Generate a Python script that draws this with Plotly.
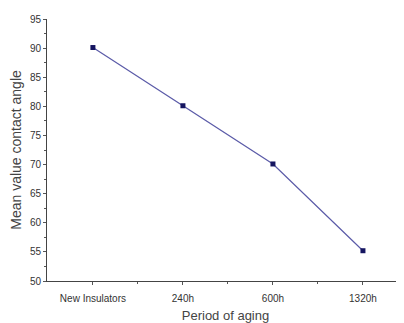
import plotly.graph_objects as go

categories = ["New Insulators", "240h", "600h", "1320h"]
contact_angle = [90.1, 80.1, 70.1, 55.2]

x_pos = list(range(len(categories)))

fig = go.Figure()
fig.add_trace(go.Scatter(
    x=x_pos, y=contact_angle, mode="lines+markers",
    line=dict(color="#5b5ba8", width=1.2),
    marker=dict(symbol="square", size=5, color="#151560"),
    showlegend=False,
))

font_family = "Liberation Sans, Arial, sans-serif"
# page body adds an 8px offset, so figure is 396x315 placed at (8,8)
fig.update_layout(
    width=396, height=315,
    margin=dict(l=39, r=0, t=11, b=42),
    paper_bgcolor="white", plot_bgcolor="white",
    font=dict(family=font_family, color="#333333"),
)
fig.update_xaxes(
    automargin=False,
    range=[-0.51, 3.456],
    tickvals=x_pos, ticktext=categories,
    tickfont=dict(size=10, color="#333333"),
    ticks="outside", ticklen=3, tickcolor="#555555",
    ticklabelstandoff=5,
    minor=dict(tickvals=[0.5, 1.5, 2.5], ticks="outside", ticklen=2, tickcolor="#555555"),
    showline=True, linecolor="#444444", linewidth=1,
    showgrid=False, zeroline=False,
    title=dict(text="Period of aging", font=dict(size=13, color="#444444"), standoff=8),
)
fig.update_yaxes(
    automargin=False,
    range=[50, 95], dtick=5,
    tickfont=dict(size=10, color="#333333"),
    ticks="outside", ticklen=3, tickcolor="#555555",
    minor=dict(dtick=2.5, ticks="outside", ticklen=2, tickcolor="#555555"),
    showline=True, linecolor="#444444", linewidth=1,
    showgrid=False, zeroline=False,
    title=dict(text="Mean value contact angle", font=dict(size=14, color="#444444"), standoff=4),
)

fig.write_html("out.html")
